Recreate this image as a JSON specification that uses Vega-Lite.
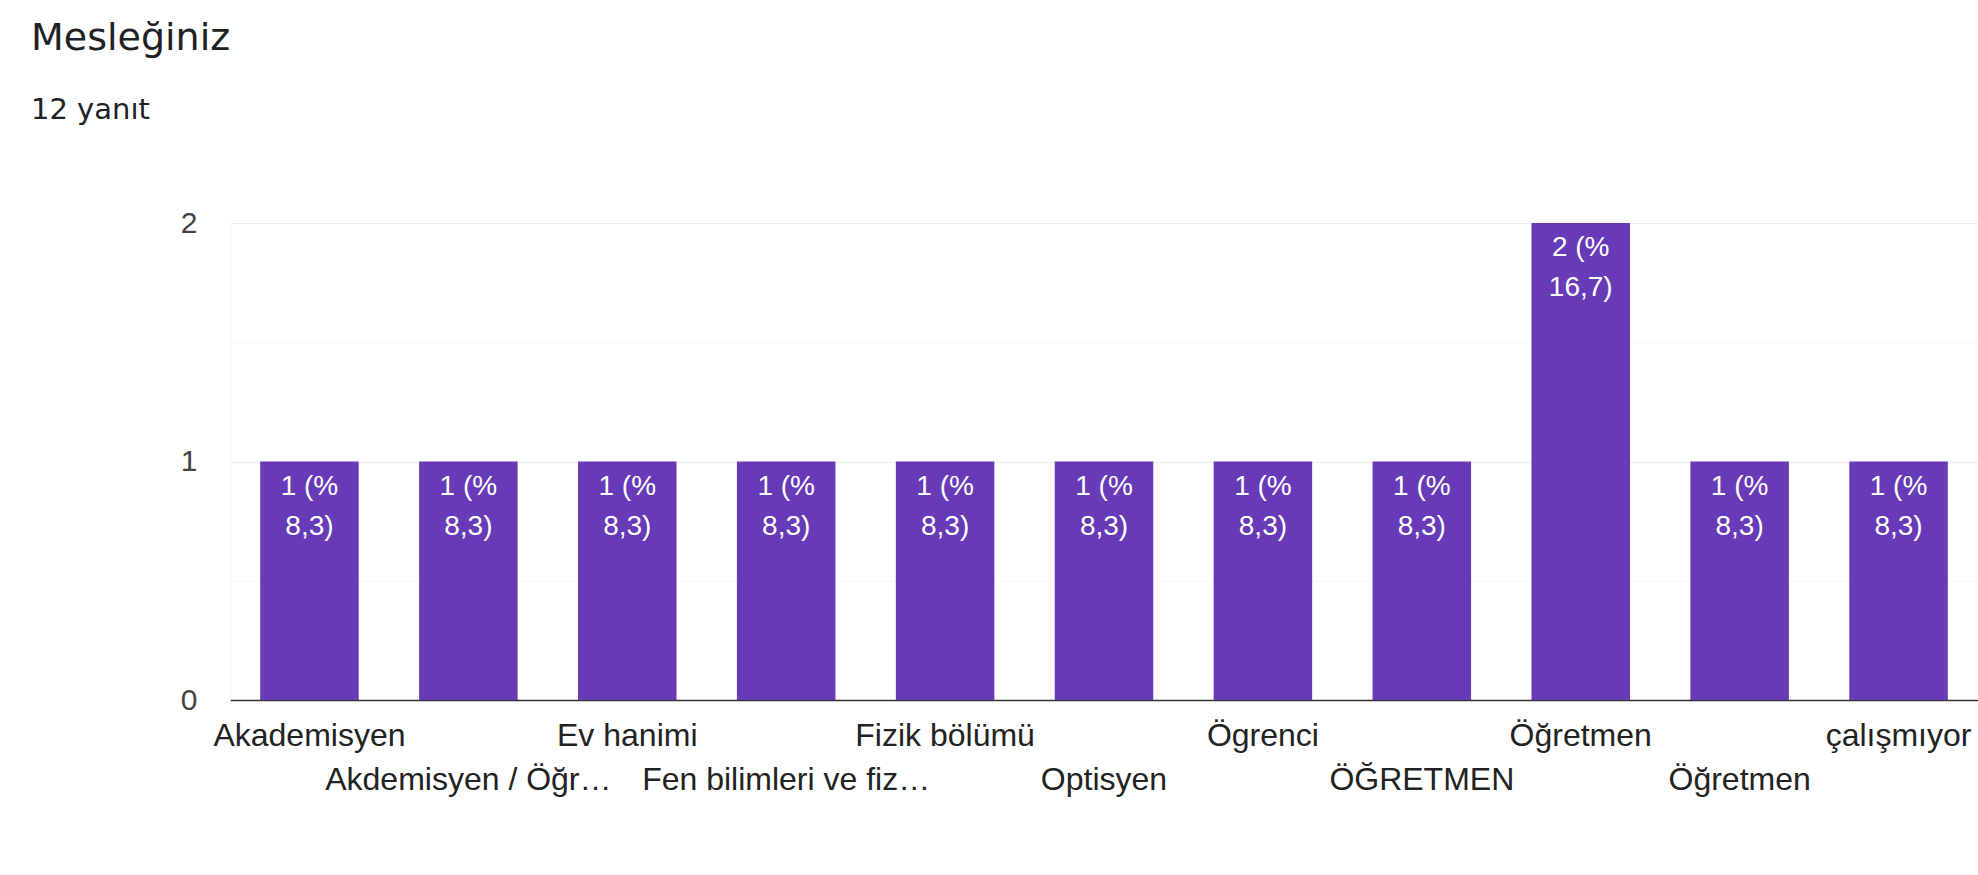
{
  "$schema": "https://vega.github.io/schema/vega-lite/v6.json",
  "autosize": {"type": "none"},
  "padding": {"left": 230, "top": 223, "right": 0, "bottom": 175},
  "width": 1748,
  "height": 477,
  "background": "#ffffff",
  "title": {
    "text": "Mesleğiniz",
    "subtitle": "12 yanıt",
    "anchor": "start",
    "frame": "group",
    "dx": -199,
    "offset": 83,
    "font": "DejaVu Sans",
    "fontSize": 38,
    "fontWeight": "normal",
    "color": "#202124",
    "subtitleFont": "DejaVu Sans",
    "subtitleFontSize": 29,
    "subtitleColor": "#202124",
    "subtitlePadding": 38
  },
  "data": {
    "values": [
      {"meslek": "Akademisyen", "sayi": 1, "etiket": "1 (%\n8,3)"},
      {"meslek": "Akdemisyen / Öğr…", "sayi": 1, "etiket": "1 (%\n8,3)"},
      {"meslek": "Ev hanimi", "sayi": 1, "etiket": "1 (%\n8,3)"},
      {"meslek": "Fen bilimleri ve fiz…", "sayi": 1, "etiket": "1 (%\n8,3)"},
      {"meslek": "Fizik bölümü", "sayi": 1, "etiket": "1 (%\n8,3)"},
      {"meslek": "Optisyen", "sayi": 1, "etiket": "1 (%\n8,3)"},
      {"meslek": "Ögrenci", "sayi": 1, "etiket": "1 (%\n8,3)"},
      {"meslek": "ÖĞRETMEN", "sayi": 1, "etiket": "1 (%\n8,3)"},
      {"meslek": "Öğretmen", "sayi": 2, "etiket": "2 (%\n16,7)"},
      {"meslek": "Öğretmen ", "sayi": 1, "etiket": "1 (%\n8,3)"},
      {"meslek": "çalışmıyor", "sayi": 1, "etiket": "1 (%\n8,3)"}
    ]
  },
  "encoding": {
    "x": {
      "field": "meslek",
      "type": "nominal",
      "sort": null,
      "scale": {"paddingInner": 0.38, "paddingOuter": 0.19},
      "axis": {
        "title": null,
        "labelAngle": 0,
        "labelFont": "Liberation Sans",
        "labelFontSize": 32,
        "labelColor": "#222222",
        "labelOverlap": false,
        "labelLimit": 0,
        "labelBaseline": "top",
        "labelPadding": {
          "condition": {
            "test": "indexof(['Akdemisyen / Öğr…','Fen bilimleri ve fiz…','Optisyen','ÖĞRETMEN','Öğretmen '], datum.value) >= 0",
            "value": 64
          },
          "value": 20
        },
        "ticks": false,
        "domainColor": "#333333",
        "domainWidth": 1.4,
        "grid": false
      }
    },
    "y": {
      "field": "sayi",
      "type": "quantitative",
      "scale": {"domain": [0, 2], "nice": false},
      "axis": {
        "title": null,
        "values": [0, 0.5, 1, 1.5, 2],
        "labelExpr": "datum.value % 1 ? '' : format(datum.value, 'd')",
        "labelFont": "Liberation Sans",
        "labelFontSize": 30,
        "labelColor": "#444444",
        "labelPadding": 33,
        "ticks": false,
        "domainColor": "#f2f2f2",
        "grid": true,
        "gridColor": {
          "condition": {"test": "datum.value % 1", "value": "#f8f8f8"},
          "value": "#ececec"
        }
      }
    }
  },
  "layer": [
    {"mark": {"type": "bar", "color": "#673ab7"}},
    {
      "mark": {
        "type": "text",
        "color": "#ffffff",
        "font": "Liberation Sans",
        "fontSize": 28,
        "lineHeight": 40,
        "baseline": "top",
        "align": "center",
        "dy": 11,
        "lineBreak": "\n"
      },
      "encoding": {"text": {"field": "etiket"}}
    }
  ],
  "config": {"view": {"stroke": null}}
}
